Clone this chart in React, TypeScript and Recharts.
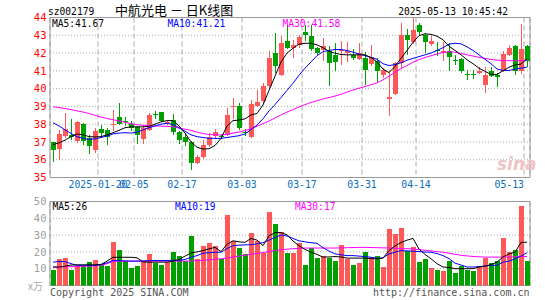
import React from "react";
import { ComposedChart, Bar, Line, XAxis, YAxis, CartesianGrid, ReferenceArea } from "recharts";

const dates = [
  "01-08","01-09","01-10","01-13","01-14","01-15","01-16","01-17","01-20","01-21",
  "01-22","01-23","01-24","01-27","02-05","02-06","02-07","02-10","02-11","02-12",
  "02-13","02-14","02-17","02-18","02-19","02-20","02-21","02-24","02-25","02-26",
  "02-27","02-28","03-03","03-04","03-05","03-06","03-07","03-10","03-11","03-12",
  "03-13","03-14","03-17","03-18","03-19","03-20","03-21","03-24","03-25","03-26",
  "03-27","03-28","03-31","04-01","04-02","04-03","04-07","04-08","04-09","04-10",
  "04-11","04-14","04-15","04-16","04-17","04-18","04-21","04-22","04-23","04-24",
  "04-25","04-28","04-29","04-30","05-06","05-07","05-08","05-09","05-12","05-13",
];

const opens = [
  37.0,36.58,37.34,37.38,37.05,38.0,37.2,36.55,37.72,37.66,
  37.93,38.4,38.2,38.0,37.82,37.18,37.66,38.55,38.68,38.05,
  38.25,37.57,37.28,36.97,35.82,36.16,36.83,37.35,37.35,37.4,
  39.0,39.0,37.55,37.3,39.0,39.28,40.12,42.0,40.78,42.7,
  42.29,42.44,43.19,42.94,42.29,42.19,42.1,41.9,42.1,42.0,
  41.9,41.65,41.7,41.4,41.57,40.75,39.42,39.7,41.44,43.0,
  42.62,43.6,43.0,42.51,42.17,42.0,42.1,41.6,41.68,40.8,
  40.82,40.87,40.22,40.97,40.74,41.0,41.87,42.4,41.0,42.4,
];
const highs = [
  37.02,37.65,38.64,38.3,38.17,38.05,37.4,37.8,37.98,37.78,
  38.8,39.17,38.41,38.17,37.9,37.9,38.64,38.75,38.7,38.2,
  38.58,37.6,37.5,37.05,36.25,37.1,37.5,37.7,37.45,38.9,
  39.45,39.18,37.7,39.37,39.9,40.31,42.1,43.13,42.94,43.6,
  42.75,43.03,43.6,43.6,42.35,42.85,42.38,42.57,42.66,42.6,
  42.2,42.55,42.05,42.47,41.72,41.15,40.97,41.5,43.69,43.38,
  43.97,43.7,43.1,42.95,42.6,42.6,42.55,41.9,41.75,41.06,
  41.06,41.24,41.24,41.24,40.85,42.1,42.45,42.47,43.64,42.47,
];
const lows = [
  35.88,36.0,37.2,37.1,36.95,36.85,36.3,36.35,37.25,36.82,
  37.6,37.98,37.89,37.6,36.9,36.88,37.6,38.27,38.1,37.95,
  37.38,36.9,36.75,35.4,35.75,36.05,36.7,37.2,37.2,37.35,
  38.3,37.68,37.35,37.25,38.95,39.2,40.0,40.87,40.7,42.2,
  41.72,42.3,42.66,42.1,41.9,41.53,40.12,40.97,41.35,41.5,
  41.6,41.6,40.2,41.3,40.4,40.6,38.44,39.65,41.16,41.9,
  42.5,43.0,42.0,42.4,41.85,41.55,41.0,41.35,40.9,40.5,
  40.55,40.8,39.75,40.65,40.1,40.96,41.85,40.78,40.82,41.2,
];
const closes = [
  36.55,37.44,37.7,37.3,38.1,37.05,36.78,37.6,37.5,37.28,
  38.02,38.03,38.1,37.8,37.38,37.8,38.51,38.5,38.19,38.12,
  37.58,37.13,37.0,35.8,36.16,36.82,37.3,37.55,37.3,38.53,
  39.05,37.77,37.5,39.13,39.24,40.12,41.72,41.25,42.57,42.29,
  42.44,42.89,43.02,42.25,42.0,42.38,41.44,41.5,42.19,42.1,
  41.7,41.99,41.05,41.76,41.0,41.07,39.53,41.44,43.0,42.76,
  43.32,43.19,42.62,42.66,42.12,42.1,41.76,41.57,40.97,40.78,
  40.8,41.0,40.78,40.72,40.63,41.95,42.29,41.0,42.25,41.57,
];

const ma5 = [
  36.85,36.95,37.1,37.3,37.45,37.4,37.3,37.28,37.3,37.4,
  37.52,37.65,37.8,37.85,37.85,37.85,37.88,38.0,38.13,38.2,
  38.2,37.9,37.5,37.0,36.7,36.6,36.62,36.8,37.2,37.9,
  38.2,38.23,38.3,38.52,38.6,39.08,39.9,40.7,41.5,42.0,
  42.27,42.5,42.55,42.55,42.46,42.3,42.1,41.99,41.92,41.9,
  41.9,41.9,41.9,41.75,41.5,41.1,40.9,41.25,41.7,42.15,
  42.6,42.98,43.08,43.05,42.95,42.75,42.38,42.15,41.9,41.62,
  41.4,41.15,40.97,40.8,40.8,41.0,41.2,41.33,41.38,41.67,
];
const ma10 = [
  38.08,37.9,37.68,37.48,37.3,37.2,37.15,37.17,37.25,37.33,
  37.45,37.5,37.52,37.5,37.55,37.68,37.8,37.9,38.0,38.05,
  37.98,37.8,37.6,37.4,37.3,37.25,37.2,37.2,37.2,37.25,
  37.3,37.35,37.45,37.7,37.95,38.3,38.75,39.1,39.5,39.9,
  40.3,40.75,41.15,41.5,41.85,42.08,42.15,42.2,42.2,42.14,
  42.05,41.95,41.85,41.75,41.65,41.4,41.3,41.35,41.45,41.6,
  41.7,41.8,41.9,42.0,42.15,42.3,42.5,42.55,42.52,42.35,
  42.15,41.9,41.65,41.4,41.1,41.02,41.02,41.1,41.15,41.21,
];
const ma30 = [
  38.98,38.93,38.88,38.82,38.75,38.68,38.6,38.5,38.4,38.32,
  38.25,38.18,38.1,38.03,37.97,37.94,37.92,37.9,37.89,37.88,
  37.85,37.78,37.72,37.65,37.55,37.47,37.42,37.4,37.39,37.42,
  37.5,37.56,37.64,37.75,37.88,38.03,38.18,38.35,38.52,38.68,
  38.82,38.97,39.1,39.22,39.32,39.42,39.5,39.58,39.68,39.8,
  39.92,40.02,40.12,40.22,40.32,40.5,40.7,40.92,41.12,41.3,
  41.48,41.63,41.75,41.85,41.95,42.03,42.08,42.05,41.98,41.9,
  41.83,41.76,41.7,41.64,41.6,41.58,41.57,41.57,41.57,41.58,
];

const volumes = [
  9.0,15.5,16.1,9.0,11.8,11.8,13.7,14.9,12.9,11.8,
  26.1,21.4,14.3,10.2,11.8,14.5,19.0,13.5,12.5,14.1,
  20.2,17.8,14.3,29.6,15.5,23.7,25.1,23.7,15.9,41.9,
  26.3,22.5,19.0,31.4,26.6,19.6,43.7,36.6,31.9,19.2,
  19.2,25.5,12.5,22.3,16.1,17.8,16.3,14.5,24.3,15.5,
  12.5,13.1,19.8,17.2,17.8,10.8,33.7,30.4,34.3,20.8,
  23.1,13.7,15.5,10.2,9.0,8.4,14.3,7.2,11.4,9.0,
  8.4,11.9,16.5,13.3,14.3,28.4,20.2,21.4,47.2,14.3,
];
const volMa5 = [
  11.0,11.0,11.5,12.2,12.3,12.3,12.3,12.3,12.5,14.5,
  16.8,16.8,16.8,16.8,16.5,14.0,13.9,13.9,13.9,13.9,
  14.5,15.5,17.5,19.4,20.0,20.8,21.8,22.7,20.2,24.5,
  26.6,26.0,25.7,28.0,27.0,23.7,29.6,31.5,31.5,30.2,
  26.5,23.7,21.5,19.8,18.5,16.9,17.0,17.2,17.0,16.3,
  16.3,16.3,16.3,16.0,15.9,16.3,20.8,23.5,25.6,27.0,
  28.0,21.7,18.5,15.9,13.0,11.0,10.8,10.0,10.0,10.0,
  10.0,11.0,11.5,12.5,13.9,17.0,18.8,19.8,25.6,25.8,
];
const volMa10 = [
  13.9,14.3,14.2,13.0,12.0,12.0,12.0,12.0,12.5,13.5,
  14.9,14.8,14.6,14.5,14.5,14.6,14.8,14.9,14.9,14.9,
  15.0,15.0,15.5,16.8,17.8,19.2,19.5,19.8,19.8,22.0,
  23.7,24.0,24.2,24.3,24.8,25.5,27.0,28.6,30.0,29.5,
  28.0,26.6,26.0,25.5,25.1,22.5,20.5,18.8,18.3,17.8,
  17.8,17.5,17.2,16.8,16.2,16.5,18.8,19.8,20.8,20.6,
  20.4,20.2,19.9,19.8,19.0,17.8,16.0,13.3,12.2,11.0,
  11.0,11.2,11.6,12.0,12.0,13.9,14.5,15.9,17.5,19.5,
];
const volMa30 = [
  11.0,11.0,11.1,11.2,11.3,11.4,11.5,11.7,11.8,13.0,
  14.3,14.5,14.5,14.5,14.5,14.5,14.5,14.5,14.5,14.5,
  14.5,14.5,14.5,14.6,14.8,15.0,15.3,15.6,15.9,16.4,
  16.9,17.5,18.0,18.6,19.1,19.6,20.2,20.8,21.3,21.6,
  21.9,22.1,22.3,22.3,22.3,22.3,22.3,22.3,22.4,22.5,
  22.6,22.7,22.7,22.6,22.5,22.4,22.3,22.2,22.0,21.9,
  21.7,21.4,21.0,20.6,20.2,19.8,19.2,18.6,18.0,17.6,
  17.3,17.1,16.9,16.9,16.9,17.0,17.0,17.1,17.2,17.2,
];

const priceTicks = [35, 36, 37, 38, 39, 40, 41, 42, 43, 44];
const volTicks = [0, 10, 20, 30, 40, 50];
const labelDates = ["01-20", "02-05", "02-17", "03-03", "03-17", "03-31", "04-14", "05-13"];
const labelTexts = ["2025-01-20", "02-05", "02-17", "03-03", "03-17", "03-31", "04-14", "05-13"];

const RED = "#ff5858";
const GREEN = "#009f00";
const MONO = "'DejaVu Sans Mono', 'Liberation Mono', monospace";
const AXIS_BLUE = "#0a6fc2";
const GRID = "#aaaaaa";
const BORDER = "#999999";

const rows = dates.map((d, i) => ({
  i,
  d,
  o: opens[i],
  h: highs[i],
  l: lows[i],
  c: closes[i],
  hl: [lows[i], highs[i]],
  ma5: ma5[i],
  ma10: ma10[i],
  ma30: ma30[i],
  v: volumes[i],
  vma5: volMa5[i],
  vma10: volMa10[i],
  vma30: volMa30[i],
}));

const tickPos = labelDates.map((d) => dates.indexOf(d) - 0.5);

const DateTick = (props: any) => {
  const { x, y, payload } = props;
  const k = tickPos.indexOf(payload.value);
  if (k < 0) return null;
  const last = k === tickPos.length - 1;
  return (
    <text x={x} y={y} dy="0.71em" textAnchor={last ? "end" : "middle"} fill={AXIS_BLUE} fontSize={9.8} fontFamily={MONO}>
      {labelTexts[k]}
    </text>
  );
};

const Candle = (props: any) => {
  const { x, y, height, payload } = props;
  if (x == null || y == null || !payload) return null;
  const top = Math.min(y, y + height);
  const span = Math.abs(height);
  const { o, h, l, c } = payload;
  const py = (v: number) => (h === l ? top : top + ((h - v) / (h - l)) * span);
  const color = c >= o ? RED : GREEN;
  const left = Math.floor(x);
  const wTop = Math.round(top);
  const wBot = Math.round(top + span);
  const bTop = Math.round(py(Math.max(o, c)));
  const bBot = Math.round(py(Math.min(o, c)));
  return (
    <g shapeRendering="crispEdges">
      <rect x={left + 2} y={wTop} width={1} height={Math.max(1, wBot - wTop)} fill={color} />
      <rect x={left} y={bTop} width={5} height={Math.max(1, bBot - bTop)} fill={color} />
    </g>
  );
};

const VolBar = (props: any) => {
  const { x, y, height, payload } = props;
  if (x == null || y == null || !payload) return null;
  const color = payload.c >= payload.o ? RED : GREEN;
  const top = Math.round(Math.min(y, y + height));
  const bot = Math.round(Math.max(y, y + height));
  return <rect x={Math.floor(x)} y={top} width={5} height={Math.max(1, bot - top)} fill={color} shapeRendering="crispEdges" />;
};

const Txt = ({ x, y, children, fill = "#000", size = 9.6, font = MONO, anchor = "start", style = {} }: any) => (
  <text x={x} y={y} fill={fill} fontSize={size} fontFamily={font} textAnchor={anchor} dominantBaseline="central" style={style}>
    {children}
  </text>
);

export default function App() {
  return (
    <div style={{ position: "absolute", left: 0, top: 0, width: 545, height: 300, background: "#fff", overflow: "hidden" }}>
      <div style={{ position: "absolute", left: 0, top: 0 }}>
        <ComposedChart width={545} height={200} data={rows} margin={{ top: 17.5, right: 15, bottom: 0, left: 0 }}>
          <XAxis xAxisId="cat" dataKey="d" type="category" hide height={0} />
          <XAxis
            xAxisId="num"
            dataKey="i"
            type="number"
            domain={[-0.5, 79.5]}
            allowDataOverflow
            ticks={tickPos}
            interval={0}
            tick={DateTick}
            tickLine={false}
            axisLine={false}
            tickSize={0}
            tickMargin={4}
            height={22.5}
          />
          <YAxis
            domain={[35, 44]}
            allowDataOverflow
            ticks={priceTicks}
            interval={0}
            width={50}
            tickLine={false}
            axisLine={false}
            tickSize={0}
            tickMargin={3.5}
            tick={{ fill: "#ff0000", fontSize: 10.5, fontFamily: MONO }}
          />
          <CartesianGrid xAxisId="num" vertical={false} stroke={GRID} strokeDasharray="1 2" />
          <CartesianGrid xAxisId="num" horizontal={false} stroke={GRID} strokeDasharray="5 3" />
          <Bar xAxisId="cat" dataKey="hl" shape={Candle} barSize={5} isAnimationActive={false} />
          <Line xAxisId="cat" dataKey="ma30" stroke="#ff00ff" strokeWidth={1} dot={false} activeDot={false} isAnimationActive={false} />
          <Line xAxisId="cat" dataKey="ma10" stroke="#0000ff" strokeWidth={1} dot={false} activeDot={false} isAnimationActive={false} />
          <Line xAxisId="cat" dataKey="ma5" stroke="#000000" strokeWidth={1} dot={false} activeDot={false} isAnimationActive={false} />
          <ReferenceArea xAxisId="num" x1={-0.5} x2={79.5} y1={35} y2={44} fill="none" fillOpacity={0} stroke={BORDER} strokeWidth={1} ifOverflow="visible" />
        </ComposedChart>
      </div>
      <div style={{ position: "absolute", left: 0, top: 190 }}>
        <ComposedChart width={545} height={110} data={rows} margin={{ top: 11.5, right: 15, bottom: 0, left: 0 }}>
          <XAxis xAxisId="cat" dataKey="d" type="category" hide height={0} />
          <XAxis
            xAxisId="num"
            dataKey="i"
            type="number"
            domain={[-0.5, 79.5]}
            allowDataOverflow
            ticks={tickPos}
            interval={0}
            tick={false}
            tickLine={false}
            axisLine={false}
            height={14.5}
          />
          <YAxis
            domain={[0, 50]}
            allowDataOverflow
            ticks={volTicks}
            interval={0}
            width={50}
            tickLine={false}
            axisLine={false}
            tickSize={0}
            tickMargin={3.5}
            tickFormatter={(v: number) => (v === 0 ? "" : String(v))}
            tick={{ fill: "#a0a0a0", fontSize: 10.5, fontFamily: MONO }}
          />
          <CartesianGrid xAxisId="num" vertical={false} stroke={GRID} strokeDasharray="1 2" />
          <CartesianGrid xAxisId="num" horizontal={false} stroke={GRID} strokeDasharray="5 3" />
          <Bar xAxisId="cat" dataKey="v" shape={VolBar} barSize={5} isAnimationActive={false} />
          <Line xAxisId="cat" dataKey="vma30" stroke="#ff00ff" strokeWidth={1} dot={false} activeDot={false} isAnimationActive={false} />
          <Line xAxisId="cat" dataKey="vma10" stroke="#0000ff" strokeWidth={1} dot={false} activeDot={false} isAnimationActive={false} />
          <Line xAxisId="cat" dataKey="vma5" stroke="#000000" strokeWidth={1} dot={false} activeDot={false} isAnimationActive={false} />
          <ReferenceArea xAxisId="num" x1={-0.5} x2={79.5} y1={0} y2={50} fill="none" fillOpacity={0} stroke={BORDER} strokeWidth={1} ifOverflow="visible" />
        </ComposedChart>
      </div>
      <svg width={545} height={300} style={{ position: "absolute", left: 0, top: 0, pointerEvents: "none" }}>
        <Txt x={48} y={11.5}>sz002179</Txt>
        <Txt x={115} y={9.5} size={13} font="'Noto Sans CJK SC', sans-serif">中航光电 － 日K线图</Txt>
        <Txt x={508} y={11.5} anchor="end">2025-05-13 10:45:42</Txt>
        <Txt x={52} y={23.5}>MA5:41.67</Txt>
        <Txt x={167.5} y={23.5} fill="#0000ff">MA10:41.21</Txt>
        <Txt x={282.5} y={23.5} fill="#ff00ff">MA30:41.58</Txt>
        <Txt x={52.5} y={206.5}>MA5:26</Txt>
        <Txt x={175} y={206.5} fill="#0000ff">MA10:19</Txt>
        <Txt x={295} y={206.5} fill="#ff00ff">MA30:17</Txt>
        <Txt x={50} y={292.5} size={10} fill="#555">Copyright 2025 SINA.COM</Txt>
        <Txt x={529.5} y={292.5} size={10} fill="#555" anchor="end">http://finance.sina.com.cn</Txt>
        <Txt x={28} y={285.5} size={10} fill="#aaa" font="'Noto Sans CJK SC', sans-serif">x万</Txt>
        <Txt x={497} y={164} size={17} fill="#efc4c4" font="'DejaVu Sans', sans-serif" style={{ fontStyle: "italic", fontWeight: "bold" }}>sina</Txt>
      </svg>
    </div>
  );
}
